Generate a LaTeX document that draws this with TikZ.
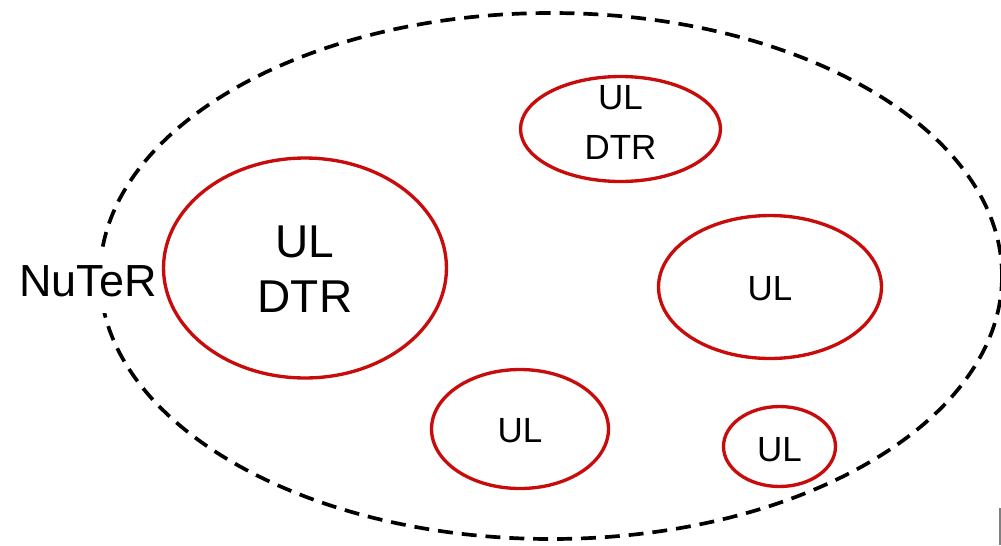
\documentclass[tikz,border=0pt]{standalone}
\usepackage{fontspec}
\setmainfont{Liberation Sans}
\usetikzlibrary{shapes.geometric}
\definecolor{ringred}{RGB}{200,12,12}
\tikzset{
  ring/.style={draw=ringred, line width=1.9pt, ellipse, inner sep=0pt},
  bigtext/.style={font=\fontsize{26.2}{31.3}\selectfont, align=center, inner sep=0pt},
  smalltext/.style={font=\fontsize{19.9}{28.5}\selectfont, align=center, inner sep=0pt},
}

\begin{document}
\begin{tikzpicture}[x=0.02cm, y=-0.02cm] % 1 px = 0.02cm, 原点在左上
  \useasboundingbox (0,0) rectangle (1001,545);

  % 外层虚线椭圆
  \draw[dash pattern=on 8.5pt off 5.1pt, line width=2.1pt] (551,276) ellipse [x radius=451, y radius=263];
  \node[font=\fontsize{25.6}{30}\selectfont, fill=white, inner xsep=2pt, inner ysep=9pt] (nuter) at (88,281) {NuTeR}; % 白底盖住虚线

  % 红色椭圆
  \node[ring, minimum width=5.66cm, minimum height=4.40cm] (big) at (305,268) {};
  \node[ring, minimum width=4.00cm, minimum height=2.10cm] (top) at (620.5,129) {};
  \node[ring, minimum width=4.46cm, minimum height=2.86cm] (right) at (770,287) {};
  \node[ring, minimum width=3.54cm, minimum height=2.38cm] (bottom) at (520,429) {};
  \node[ring, minimum width=2.24cm, minimum height=1.60cm] (small) at (779.5,446.5) {};

  % 文字
  \node[bigtext] (bigtext) at (305,269) {UL\\DTR};
  \node[smalltext] (toptext) at (620.5,122.5) {UL\\DTR};
  \node[smalltext] (righttext) at (770,288.5) {UL};
  \node[smalltext] (bottomtext) at (520,430.5) {UL};
  \node[smalltext] (smalltext) at (779.5,449.5) {UL};

  \draw[gray, line width=1pt] (1000,508) -- (1000,545); % 右下角的竖线
\end{tikzpicture}
\end{document}
